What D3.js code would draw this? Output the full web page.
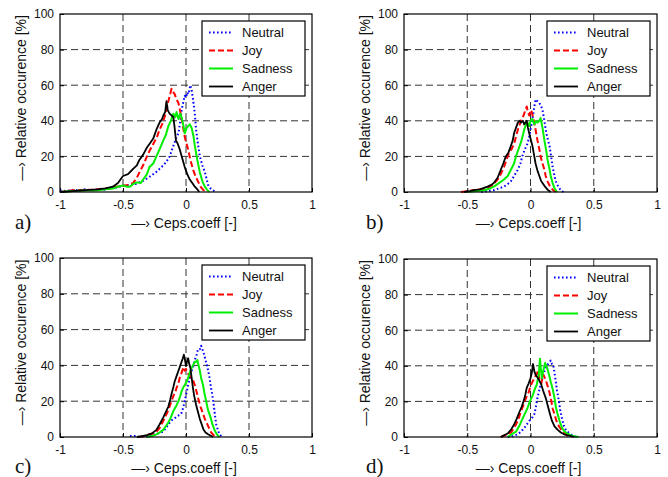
<!DOCTYPE html>
<html>
<head>
<meta charset="utf-8">
<script src="https://cdn.jsdelivr.net/npm/d3@7"></script>
<style>
  body { margin: 0; background: #fff; }
  svg { display: block; }
</style>
</head>
<body>
<div id="chart"></div>
<script>
var xTicks = [-1, -0.5, 0, 0.5, 1];
var yTicks = [0, 20, 40, 60, 80, 100];
var seriesNames = ['Neutral', 'Joy', 'Sadness', 'Anger'];
var panelLetters = ['a)', 'b)', 'c)', 'd)'];

// [ceps.coeff, relative occurence %]
var neutralA = [[-1,1],[-0.95,0.5],[-0.9,1.2],[-0.85,1],[-0.8,1.5],[-0.75,1],[-0.7,1.6],[-0.65,1.2],[-0.6,2],[-0.55,2.5],[-0.5,3.5],[-0.45,4],[-0.4,4.5],[-0.35,6],[-0.3,8],[-0.27,9.5],[-0.24,11],[-0.21,13],[-0.18,15],[-0.155,17],[-0.13,20],[-0.1,26],[-0.08,30],[-0.06,33],[-0.045,40],[-0.035,46],[-0.02,51],[-0.01,54],[0,53],[0.01,56],[0.02,55],[0.035,60],[0.045,57],[0.056,52],[0.07,44],[0.08,35],[0.095,27],[0.11,20],[0.13,15],[0.15,11],[0.165,7],[0.175,4],[0.195,2],[0.215,1],[0.23,0]];
var joyA = [[-1,0],[-0.95,0.5],[-0.9,1],[-0.8,1],[-0.7,1.5],[-0.65,2],[-0.6,2],[-0.55,3],[-0.5,3.5],[-0.46,4],[-0.42,5],[-0.39,8],[-0.37,11],[-0.34,15],[-0.31,20],[-0.29,23],[-0.26,27],[-0.23,31],[-0.21,35],[-0.19,38],[-0.17,42],[-0.155,46],[-0.14,51],[-0.125,55],[-0.115,58],[-0.1,56],[-0.09,55],[-0.075,52],[-0.06,50],[-0.045,45],[-0.035,41],[-0.02,35],[-0.01,31],[0,28],[0.017,24],[0.035,18],[0.056,12.5],[0.075,9],[0.095,6],[0.115,3],[0.135,1.3],[0.16,0]];
var sadnessA = [[-1,0],[-0.9,0.5],[-0.8,0.8],[-0.7,1],[-0.64,1.5],[-0.58,2],[-0.54,3],[-0.5,3.7],[-0.47,3],[-0.445,3],[-0.42,4.5],[-0.39,5.4],[-0.36,5],[-0.34,7],[-0.31,10],[-0.29,14],[-0.26,16],[-0.235,20],[-0.21,24],[-0.18,29],[-0.16,32],[-0.14,37],[-0.12,40],[-0.1,44],[-0.085,42],[-0.075,45],[-0.06,41],[-0.045,44],[-0.035,42],[-0.02,37],[-0.01,33],[0.005,36],[0.017,37],[0.03,38],[0.045,36],[0.06,31],[0.07,26],[0.09,18],[0.11,11],[0.13,6],[0.15,3],[0.17,1],[0.185,0]];
var angerA = [[-1,0],[-0.9,0.5],[-0.8,1],[-0.7,1.5],[-0.64,2],[-0.58,3],[-0.54,5],[-0.5,9],[-0.46,10],[-0.42,13],[-0.39,15],[-0.37,18],[-0.34,21],[-0.31,25],[-0.28,28],[-0.26,30],[-0.235,35],[-0.21,39],[-0.19,41],[-0.18,43],[-0.165,45],[-0.155,51],[-0.145,46],[-0.13,44],[-0.115,43],[-0.1,42],[-0.09,36],[-0.08,29],[-0.065,27],[-0.05,24],[-0.03,19],[-0.01,14],[0.01,10],[0.03,7],[0.05,5],[0.07,3],[0.09,1.5],[0.105,0]];

var neutralB = [[-0.39,0],[-0.34,0.5],[-0.29,1],[-0.25,2],[-0.21,3],[-0.18,4.5],[-0.155,6],[-0.13,9],[-0.1,12.5],[-0.08,16],[-0.065,20],[-0.045,24],[-0.025,27],[-0.01,31],[0,35],[0.01,39],[0.02,43],[0.03,48],[0.04,52],[0.055,51],[0.07,50],[0.085,48],[0.095,46],[0.11,40],[0.12,35],[0.135,30],[0.15,26],[0.165,19],[0.175,14],[0.19,9],[0.2,6],[0.22,3],[0.24,1],[0.26,0]];
var joyB = [[-0.55,0],[-0.5,0.5],[-0.45,1],[-0.4,1.5],[-0.34,2],[-0.3,4],[-0.26,7],[-0.235,10],[-0.21,14],[-0.19,18],[-0.17,22],[-0.15,24],[-0.13,27],[-0.115,31],[-0.1,35],[-0.085,38],[-0.075,40],[-0.06,42],[-0.05,44],[-0.04,46],[-0.03,48],[-0.02,45],[-0.01,43],[0,46],[0.01,45],[0.02,42],[0.03,39],[0.045,33],[0.055,29],[0.07,24],[0.08,20],[0.095,16],[0.11,12.5],[0.12,9],[0.135,6],[0.155,3],[0.175,1.3],[0.2,0]];
var sadnessB = [[-0.5,0],[-0.43,0.5],[-0.365,1],[-0.32,2],[-0.29,3],[-0.25,5],[-0.21,7],[-0.18,9],[-0.155,12.5],[-0.13,16],[-0.115,20],[-0.095,24],[-0.075,28],[-0.06,32],[-0.05,35],[-0.035,38],[-0.025,39],[-0.01,37],[0,40],[0.015,41],[0.03,38],[0.045,40],[0.055,39],[0.07,40],[0.08,41.5],[0.095,36],[0.11,29],[0.125,23],[0.135,18],[0.15,13],[0.16,9],[0.175,5],[0.19,2],[0.21,0]];
var angerB = [[-0.525,0],[-0.48,0.5],[-0.45,1],[-0.4,1.5],[-0.34,3],[-0.31,4],[-0.29,5],[-0.26,8],[-0.235,12.5],[-0.215,16],[-0.195,20],[-0.175,22],[-0.155,26],[-0.14,29],[-0.13,33],[-0.115,36],[-0.1,39],[-0.085,40],[-0.075,39],[-0.06,40],[-0.05,38],[-0.04,39],[-0.03,40],[-0.02,36],[-0.01,33],[0,30],[0.015,26],[0.03,20],[0.04,16],[0.055,12],[0.07,9],[0.085,6],[0.095,5],[0.115,3],[0.135,1.3],[0.16,0]];

var neutralC = [[-0.445,0.5],[-0.41,0.5],[-0.37,0],[-0.3,0.5],[-0.26,1],[-0.22,2],[-0.18,3],[-0.16,5],[-0.14,7],[-0.12,9],[-0.1,10],[-0.08,11],[-0.06,12],[-0.045,12.5],[-0.035,13.5],[-0.02,17],[-0.01,20],[0.005,25],[0.017,29],[0.03,33],[0.045,37],[0.06,40],[0.07,43],[0.085,46],[0.095,49],[0.11,49],[0.12,51],[0.13,49],[0.14,47],[0.155,43],[0.17,39],[0.185,34],[0.195,29],[0.21,23],[0.22,18],[0.23,12],[0.24,7],[0.255,3.5],[0.265,1.5],[0.29,0]];
var joyC = [[-0.37,0],[-0.33,0.5],[-0.29,1.5],[-0.26,2],[-0.235,3],[-0.21,5],[-0.18,9],[-0.16,12],[-0.14,15],[-0.12,19],[-0.1,23],[-0.085,25],[-0.075,27.5],[-0.06,30],[-0.05,33],[-0.035,36],[-0.02,39],[-0.01,37],[0,38],[0.01,36],[0.02,35],[0.03,34],[0.045,33],[0.06,31],[0.07,29],[0.085,25],[0.095,22],[0.115,17],[0.135,13],[0.15,10],[0.17,7],[0.185,4.5],[0.2,2.5],[0.22,1],[0.24,0]];
var sadnessC = [[-0.31,0],[-0.27,0.5],[-0.235,1.5],[-0.21,2.5],[-0.18,4],[-0.16,6],[-0.14,8],[-0.12,11],[-0.1,14.5],[-0.08,17],[-0.06,20],[-0.045,23],[-0.035,25.5],[-0.02,28],[-0.01,29],[0.005,31],[0.017,33],[0.03,36],[0.045,38.6],[0.055,40],[0.07,42],[0.08,42],[0.09,43],[0.1,40],[0.11,37],[0.12,33],[0.135,29],[0.145,25],[0.16,20],[0.175,15],[0.195,11],[0.21,7],[0.23,3.3],[0.245,1.5],[0.265,0]];
var angerC = [[-0.39,0],[-0.35,0.5],[-0.31,1],[-0.27,2],[-0.235,4],[-0.21,7],[-0.18,11],[-0.16,14],[-0.14,17],[-0.125,21],[-0.115,24],[-0.1,28],[-0.09,31],[-0.075,34],[-0.06,37],[-0.045,40],[-0.035,42],[-0.025,44],[-0.017,46],[-0.008,43],[0,39.6],[0.008,42],[0.017,44],[0.025,41],[0.035,38.6],[0.045,33],[0.055,27.5],[0.065,23],[0.08,18],[0.095,14],[0.11,10],[0.125,7],[0.14,4],[0.155,2.5],[0.175,1.5],[0.215,0]];

var neutralD = [[-0.18,0],[-0.14,0.5],[-0.1,1.5],[-0.075,3],[-0.05,5],[-0.03,7],[-0.01,9],[0.01,10.5],[0.03,12.7],[0.04,16],[0.055,22],[0.065,25],[0.08,29.5],[0.095,33],[0.11,37],[0.12,39],[0.135,40.7],[0.15,42],[0.16,43],[0.17,41],[0.18,40.7],[0.19,36],[0.2,31],[0.21,26],[0.225,20],[0.235,15],[0.25,10],[0.265,6],[0.28,4],[0.3,2.5],[0.32,1.5],[0.345,0.5],[0.37,0]];
var joyD = [[-0.235,0],[-0.2,1],[-0.155,2.5],[-0.135,4.5],[-0.115,7],[-0.095,10],[-0.075,14.5],[-0.055,18],[-0.035,22],[-0.015,25],[0,28.5],[0.015,31],[0.03,33],[0.045,35],[0.06,37],[0.07,33],[0.085,30],[0.1,35],[0.115,33],[0.125,31],[0.14,27.6],[0.15,25],[0.165,20],[0.175,16],[0.19,12.7],[0.205,9],[0.225,6],[0.245,4],[0.265,2.5],[0.285,1],[0.305,0]];
var sadnessD = [[-0.18,0],[-0.15,1.5],[-0.115,3],[-0.09,6],[-0.065,10],[-0.045,13],[-0.025,16],[-0.005,20],[0.015,23],[0.035,27],[0.05,29.5],[0.065,35],[0.075,44],[0.082,38],[0.09,33],[0.1,37],[0.115,41.6],[0.125,40],[0.135,38],[0.15,34],[0.16,31],[0.175,27],[0.19,22],[0.2,17],[0.215,12.7],[0.23,9],[0.25,5],[0.27,3],[0.29,2],[0.315,1],[0.345,0.5],[0.38,0]];
var angerD = [[-0.235,0],[-0.21,1],[-0.18,2],[-0.155,4],[-0.13,7],[-0.11,10],[-0.09,13.6],[-0.07,17],[-0.055,20],[-0.04,24],[-0.03,27.6],[-0.015,30],[0,33],[0.01,36],[0.02,41],[0.03,37],[0.04,35],[0.05,34],[0.06,33],[0.075,31],[0.085,29.5],[0.1,26],[0.12,22],[0.135,18],[0.155,12.7],[0.17,9],[0.19,6],[0.215,4],[0.24,2.5],[0.265,1.5],[0.29,1],[0.32,0.5],[0.345,0]];

var panelSeries = [
    [neutralA, joyA, sadnessA, angerA],
    [neutralB, joyB, sadnessB, angerB],
    [neutralC, joyC, sadnessC, angerC],
    [neutralD, joyD, sadnessD, angerD]
];

// line look per series
var styles = [
    { color: '#0000ff', width: 2, dash: '1.6,2.4' },
    { color: '#ff0000', width: 2, dash: '6,3' },
    { color: '#00ee00', width: 2, dash: null },
    { color: '#000000', width: 1.8, dash: null }
];

// plot boxes in page pixels
var boxes = [
    { left: 60, right: 312, top: 14, bottom: 192, lx: 15, ly: 229 },
    { left: 404, right: 657, top: 14, bottom: 192, lx: 366, ly: 229 },
    { left: 60, right: 312, top: 258, bottom: 437, lx: 15, ly: 473 },
    { left: 404, right: 657, top: 259, bottom: 437, lx: 366, ly: 473 }
];

var svg = d3.select('#chart').append('svg')
    .attr('width', 668)
    .attr('height', 477)
    .style('font-family', 'Liberation Sans, Arial, sans-serif');

boxes.forEach(function(b, i) {
    var x = d3.scaleLinear().domain([-1, 1]).range([b.left, b.right]);
    var y = d3.scaleLinear().domain([0, 100]).range([b.bottom, b.top]);
    var g = svg.append('g');

    // dashed grid
    g.selectAll('.vgrid').data(xTicks.slice(1, -1)).enter().append('line')
        .attr('x1', function(d) { return x(d); }).attr('x2', function(d) { return x(d); })
        .attr('y1', b.top).attr('y2', b.bottom)
        .attr('stroke', '#333').attr('stroke-dasharray', '7,4');
    g.selectAll('.hgrid').data(yTicks.slice(1, -1)).enter().append('line')
        .attr('y1', function(d) { return y(d); }).attr('y2', function(d) { return y(d); })
        .attr('x1', b.left).attr('x2', b.right)
        .attr('stroke', '#333').attr('stroke-dasharray', '7,4');

    // axes, ticks pointing inward
    var xa = g.append('g').attr('transform', 'translate(0,' + b.bottom + ')')
        .call(d3.axisBottom(x).tickValues(xTicks).tickSize(-4).tickSizeOuter(0).tickPadding(6)
            .tickFormat(function(d) { return String(d); }));
    var ya = g.append('g').attr('transform', 'translate(' + b.left + ',0)')
        .call(d3.axisLeft(y).tickValues(yTicks).tickSize(-4).tickSizeOuter(0).tickPadding(6));
    [xa, ya].forEach(function(a) {
        a.select('.domain').remove();
        a.selectAll('text').attr('font-size', 12).attr('fill', '#111').attr('font-family', null);
    });
    xa.selectAll('text').attr('dy', '0.95em');

    // curves
    var line = d3.line().x(function(d) { return x(d[0]); }).y(function(d) { return y(d[1]); });
    panelSeries[i].forEach(function(s, k) {
        g.append('path').datum(s)
            .attr('d', line)
            .attr('fill', 'none')
            .attr('stroke', styles[k].color)
            .attr('stroke-width', styles[k].width)
            .attr('stroke-dasharray', styles[k].dash)
            .attr('stroke-linejoin', 'round');
    });

    // frame
    g.append('rect')
        .attr('x', b.left).attr('y', b.top)
        .attr('width', b.right - b.left).attr('height', b.bottom - b.top)
        .attr('fill', 'none').attr('stroke', '#000').attr('stroke-width', 1.2);

    // legend
    var lg = g.append('g').attr('transform', 'translate(' + (b.right - 110) + ',' + (b.top + 7) + ')');
    lg.append('rect').attr('width', 103).attr('height', 75)
        .attr('fill', '#fff').attr('stroke', '#000').attr('stroke-width', 1.2);
    seriesNames.forEach(function(name, k) {
        var ry = 11.5 + k * 18;
        lg.append('line').attr('x1', 7).attr('x2', 31).attr('y1', ry).attr('y2', ry)
            .attr('stroke', styles[k].color).attr('stroke-width', styles[k].width)
            .attr('stroke-dasharray', styles[k].dash);
        lg.append('text').attr('x', 40).attr('y', ry + 4.5)
            .attr('font-size', 13).attr('fill', '#111').text(name);
    });

    // axis labels
    g.append('text')
        .attr('x', (b.left + b.right) / 2 - 2).attr('y', b.bottom + 36)
        .attr('text-anchor', 'middle').attr('font-size', 14).attr('fill', '#111')
        .text('\u2014\u203a Ceps.coeff [-]');
    g.append('text')
        .attr('transform', 'translate(' + (b.left - 34) + ',' + ((b.top + b.bottom) / 2 - 5) + ') rotate(-90)')
        .attr('text-anchor', 'middle').attr('font-size', 14).attr('fill', '#111')
        .text('\u2014\u203a Relative occurence [%]');

    // panel letter
    g.append('text')
        .attr('x', b.lx).attr('y', b.ly)
        .attr('font-family', 'Liberation Serif, Times New Roman, serif')
        .attr('font-size', 21).attr('fill', '#111')
        .text(panelLetters[i]);
});
</script>
</body>
</html>
